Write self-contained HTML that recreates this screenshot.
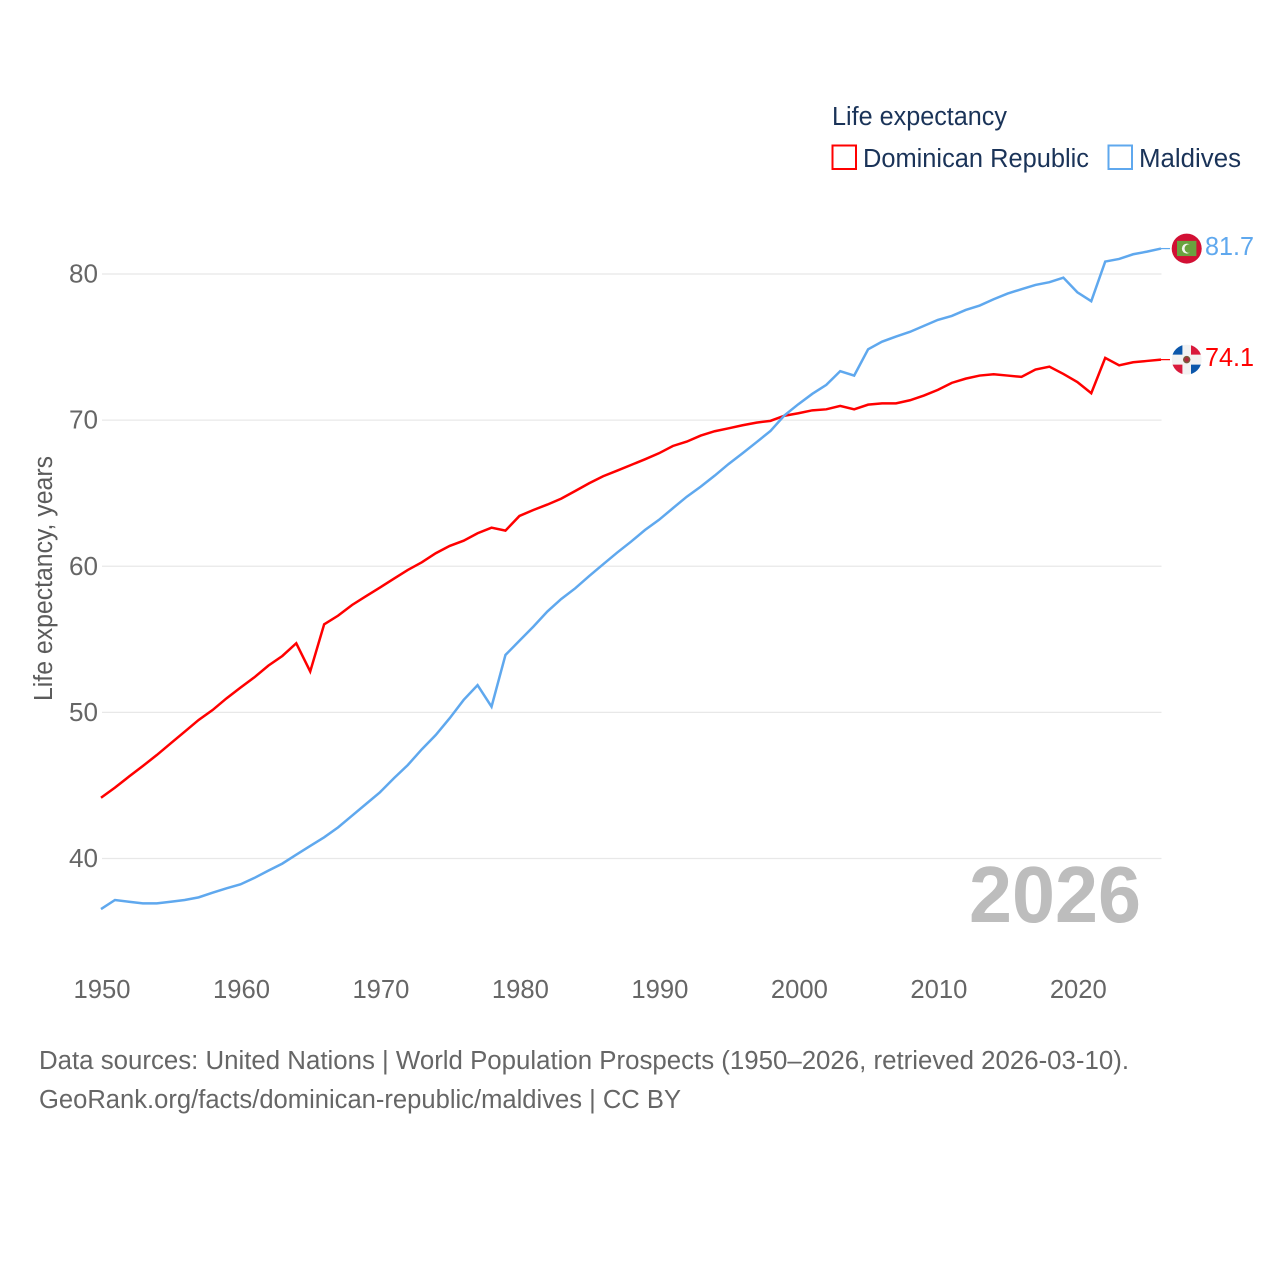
<!DOCTYPE html>
<html lang="en">
<head>
<meta charset="utf-8">
<title>Life expectancy: Dominican Republic and Maldives</title>
<style>
  html, body { margin: 0; padding: 0; background: #fff; }
  svg { display: block; }
  text { font-family: "Liberation Sans", sans-serif; }
</style>
</head>
<body>
<svg id="chart" xmlns="http://www.w3.org/2000/svg" width="1280" height="1280" viewBox="0 0 1280 1280">
  <rect x="0" y="0" width="1280" height="1280" fill="#ffffff"/>
  <g id="grid"></g>
  <g id="yticks"></g>
  <g id="xticks"></g>
  <text transform="translate(52 701) rotate(-90)" font-size="25.5" fill="#5b5b5b" textLength="245" lengthAdjust="spacingAndGlyphs">Life expectancy, years</text>
  <text x="969" y="922" font-size="80" font-weight="700" fill="#bdbdbd" textLength="172" lengthAdjust="spacingAndGlyphs">2026</text>
  <g id="series"></g>

  <g>
    <text x="832" y="125" font-size="25.5" fill="#1a3358" textLength="175" lengthAdjust="spacingAndGlyphs">Life expectancy</text>
    <rect x="832.5" y="145.5" width="23.5" height="23.5" fill="#ffffff" stroke="#ff0000" stroke-width="2"/>
    <text x="863" y="167" font-size="25.5" fill="#1a3358" textLength="226" lengthAdjust="spacingAndGlyphs">Dominican Republic</text>
    <rect x="1108.5" y="145.5" width="23.5" height="23.5" fill="#ffffff" stroke="#5fa8ee" stroke-width="2"/>
    <text x="1139" y="167" font-size="25.5" fill="#1a3358" textLength="102" lengthAdjust="spacingAndGlyphs">Maldives</text>
  </g>

  <defs>
    <clipPath id="clip-flag-do"><circle cx="0" cy="0" r="15"/></clipPath>
  </defs>
  <g id="flag-maldives">
    <circle cx="0" cy="0" r="15" fill="#d21034"/>
    <rect x="-9.7" y="-7.7" width="19.4" height="15.2" fill="#6aa23f"/>
    <circle cx="0.2" cy="0" r="5" fill="#f4f4ee"/>
    <circle cx="2.2" cy="0" r="4.3" fill="#6aa23f"/>
  </g>
  <g id="flag-dominican">
    <g clip-path="url(#clip-flag-do)">
      <rect x="-15" y="-15" width="30" height="30" fill="#f2f2f2"/>
      <rect x="-15" y="-15" width="10.7" height="10" fill="#0b57ab"/>
      <rect x="4.3" y="-15" width="10.7" height="10" fill="#d91a3c"/>
      <rect x="-15" y="5" width="10.7" height="10" fill="#d91a3c"/>
      <rect x="4.3" y="5" width="10.7" height="10" fill="#0b57ab"/>
      <circle cx="0" cy="0" r="3.7" fill="#7a5a3a"/>
      <circle cx="0" cy="0" r="2.2" fill="#b0283c"/>
    </g>
  </g>
  <g id="endlabels"></g>

  <g>
    <text x="39" y="1069" font-size="25.5" fill="#666666" textLength="1090" lengthAdjust="spacingAndGlyphs">Data sources: United Nations | World Population Prospects (1950–2026, retrieved 2026-03-10).</text>
    <text x="39" y="1108" font-size="25.5" fill="#666666" textLength="642" lengthAdjust="spacingAndGlyphs">GeoRank.org/facts/dominican-republic/maldives | CC BY</text>
  </g>
</svg>

<script>
const years = [1950,1951,1952,1953,1954,1955,1956,1957,1958,1959,1960,1961,1962,1963,1964,1965,1966,1967,1968,1969,1970,1971,1972,1973,1974,1975,1976,1977,1978,1979,1980,1981,1982,1983,1984,1985,1986,1987,1988,1989,1990,1991,1992,1993,1994,1995,1996,1997,1998,1999,2000,2001,2002,2003,2004,2005,2006,2007,2008,2009,2010,2011,2012,2013,2014,2015,2016,2017,2018,2019,2020,2021,2022,2023,2024,2025,2026];
const dominicanRepublic = [44.16,44.85,45.6,46.33,47.08,47.88,48.68,49.48,50.16,50.96,51.69,52.4,53.2,53.86,54.73,52.8,56.03,56.62,57.35,57.95,58.54,59.15,59.75,60.27,60.89,61.39,61.75,62.26,62.64,62.44,63.44,63.85,64.22,64.63,65.15,65.68,66.16,66.54,66.93,67.32,67.73,68.23,68.53,68.94,69.24,69.44,69.65,69.83,69.95,70.3,70.47,70.67,70.74,70.97,70.74,71.06,71.15,71.15,71.36,71.68,72.07,72.55,72.84,73.05,73.14,73.05,72.96,73.46,73.66,73.16,72.61,71.84,74.26,73.75,73.96,74.05,74.14];
const maldives = [36.54,37.16,37.04,36.93,36.93,37.04,37.16,37.34,37.66,37.96,38.23,38.67,39.17,39.65,40.26,40.86,41.45,42.13,42.93,43.73,44.53,45.49,46.4,47.47,48.45,49.6,50.85,51.86,50.39,53.93,54.9,55.87,56.9,57.76,58.49,59.33,60.13,60.93,61.68,62.48,63.17,63.97,64.76,65.45,66.2,67,67.73,68.49,69.26,70.32,71.09,71.8,72.41,73.35,73.05,74.85,75.37,75.72,76.04,76.45,76.86,77.13,77.54,77.84,78.27,78.66,78.96,79.25,79.44,79.75,78.75,78.14,80.85,81.03,81.35,81.53,81.74];
const yTickValues = [40,50,60,70,80];
const xTickValues = [1950,1960,1970,1980,1990,2000,2010,2020];

const SVG_NS = 'http://www.w3.org/2000/svg';
const RED = '#ff0000';
const BLUE = '#5fa8ee';

function xScale(year) { return 101 + (year - 1950) * (1161 - 101) / (2026 - 1950); }
function yScale(value) { return 858.5 - (value - 40) * (858.5 - 274) / (80 - 40); }

function make(tag, parentId, attrs, content) {
  const el = document.createElementNS(SVG_NS, tag);
  for (const key in attrs) el.setAttribute(key, attrs[key]);
  if (content !== undefined) el.textContent = content;
  document.getElementById(parentId).appendChild(el);
  return el;
}

yTickValues.forEach(function (v) {
  const line = make('line', 'grid', { x1: 102, x2: 1161.5, y1: yScale(v), y2: yScale(v), stroke: '#e8e8e8', 'stroke-width': 1.2 });
  
  
  const label = make('text', 'yticks', { x: 98, y: yScale(v) + 8.5, 'text-anchor': 'end', 'font-size': 26, fill: '#666666', textLength: 29, lengthAdjust: 'spacingAndGlyphs' }, String(v));
  
  
});

xTickValues.forEach(function (year) {
  const label = make('text', 'xticks', { x: xScale(year) + 1, y: 998, 'text-anchor': 'middle', 'font-size': 26, fill: '#666666', textLength: 57, lengthAdjust: 'spacingAndGlyphs' }, String(year));
  
  
});

function pointsFor(values) {
  return values.map(function (v, i) { return xScale(years[i]).toFixed(2) + ',' + yScale(v).toFixed(2); }).join(' ');
}

const redLine = make('polyline', 'series', { points: pointsFor(dominicanRepublic), fill: 'none', stroke: RED, 'stroke-width': 2.5, 'stroke-linejoin': 'miter' });



const blueLine = make('polyline', 'series', { points: pointsFor(maldives), fill: 'none', stroke: BLUE, 'stroke-width': 2.5, 'stroke-linejoin': 'miter' });



const lastYear = years[years.length - 1];
const lastRed = dominicanRepublic[dominicanRepublic.length - 1];
const lastBlue = maldives[maldives.length - 1];

const redLead = make('line', 'series', { x1: xScale(lastYear), x2: 1170, y1: yScale(lastRed), y2: yScale(lastRed), stroke: RED, 'stroke-width': 1.2 });



const blueLead = make('line', 'series', { x1: xScale(lastYear), x2: 1170, y1: yScale(lastBlue), y2: yScale(lastBlue), stroke: BLUE, 'stroke-width': 1.2 });



document.getElementById('flag-maldives').setAttribute('transform', 'translate(1186.7 ' + yScale(lastBlue) + ')');
document.getElementById('flag-dominican').setAttribute('transform', 'translate(1186.7 ' + yScale(lastRed) + ')');

const blueValue = make('text', 'endlabels', { x: 1205, y: yScale(lastBlue) + 6.5, 'font-size': 26, fill: BLUE, textLength: 49, lengthAdjust: 'spacingAndGlyphs' }, lastBlue.toFixed(1));



const redValue = make('text', 'endlabels', { x: 1205, y: yScale(lastRed) + 6.5, 'font-size': 26, fill: RED, textLength: 49, lengthAdjust: 'spacingAndGlyphs' }, lastRed.toFixed(1));


</script>
</body>
</html>
